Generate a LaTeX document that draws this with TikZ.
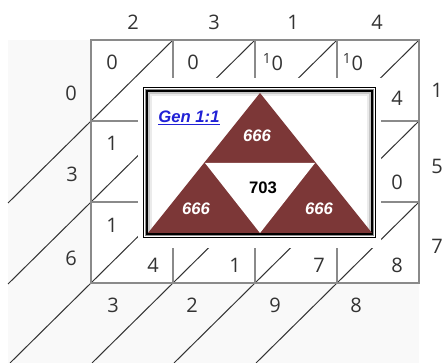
\documentclass[tikz,border=0pt]{standalone}
\usepackage{fontspec}
\setmainfont{Open Sans}
\newfontfamily\boxfont{Liberation Sans}
\definecolor{bggray}{HTML}{F9F9F9}
\definecolor{gridgray}{HTML}{8A8A8A}
\definecolor{numgray}{HTML}{333333}
\definecolor{trired}{HTML}{7C3737}
\definecolor{genblue}{HTML}{2121D6}
\begin{document}
\begin{tikzpicture}[
  x=0.75pt, y=-0.75pt,
  digit/.style={font=\fontsize{15}{18}\selectfont, text=numgray, inner sep=0pt},
  gridline/.style={draw=gridgray, line width=0.9pt},
  diag/.style={draw=black!80, line width=0.75pt},
  trinum/.style={font=\boxfont\bfseries\itshape\fontsize{12.5}{14}\selectfont, text=white, inner sep=0pt},
  midnum/.style={font=\boxfont\bfseries\fontsize{12.5}{14}\selectfont, text=black, inner sep=0pt}
]
\useasboundingbox (0,0) rectangle (443,363);

% Background and white grid area
\fill[bggray] (8,40) rectangle (419,363);
\fill[white] (91,40) rectangle (419,283);

% Diagonals running out to the lower left
\draw[diag] (173,40) -- (8,203);
\draw[diag] (255,40) -- (8,284);
\draw[diag] (337,40) -- (10,363);
\draw[diag] (419,40) -- (92,363);
\draw[diag] (419,121) -- (174,363);
\draw[diag] (419,202) -- (256,363);

% Grid: 4 columns, 3 rows
\draw[gridline] (91,40) rectangle (419,283);
\draw[gridline] (173,40) -- (173,283);
\draw[gridline] (255,40) -- (255,283);
\draw[gridline] (337,40) -- (337,283);
\draw[gridline] (91,121) -- (419,121);
\draw[gridline] (91,202) -- (419,202);

% Top factors
\node[digit] (top1) at (133,22) {2};
\node[digit] (top2) at (214,22) {3};
\node[digit] (top3) at (293,22) {1};
\node[digit] (top4) at (377,22) {4};

% Left and right labels
\node[digit] (left1) at (71,93) {0};
\node[digit] (left2) at (72,174) {3};
\node[digit] (left3) at (71,258) {6};
\node[digit] (right1) at (437,90) {1};
\node[digit] (right2) at (437,166) {5};
\node[digit] (right3) at (437,246) {7};

% Bottom result digits
\node[digit] (bot1) at (113,305) {3};
\node[digit] (bot2) at (192,305) {2};
\node[digit] (bot3) at (275,305) {9};
\node[digit] (bot4) at (356,305) {8};

% Cell entries still visible
\node[digit] (c11) at (112,62) {0};
\node[digit] (c12) at (193,62) {0};
\node[digit] (c13) at (273,62) {\textsuperscript{1}0};
\node[digit] (c14) at (353,62) {\textsuperscript{1}0};
\node[digit] (c14b) at (397,98) {4};
\node[digit] (c21) at (112,143) {1};
\node[digit] (c24b) at (397,182) {0};
\node[digit] (c31) at (112,225) {1};
\node[digit] (c31b) at (153,265) {4};
\node[digit] (c32b) at (235,265) {1};
\node[digit] (c33b) at (319,265) {7};
\node[digit] (c34b) at (397,265) {8};

% Overlay box with framed triangles
\fill[white] (138,78) rectangle (381,248);
\draw[black, line width=1.2pt] (143.5,87.5) rectangle (375.5,237.5);
\draw[black!45, line width=1.2pt] (145.5,89.5) rectangle (373.5,235.5);
\draw[black, line width=0.9pt] (147,91) rectangle (372,234);
\draw[black!22, line width=1.5pt] (149,93) rectangle (370,232);
\draw[black!8, line width=1.5pt] (151,95) rectangle (368,230);

\fill[trired] (148,233) -- (260,93) -- (372,233) -- cycle;
\fill[white] (205,163) -- (315,163) -- (260,233) -- cycle;

\node[font=\boxfont\bfseries\itshape\fontsize{12.5}{14}\selectfont, text=genblue, inner sep=0pt] (gen) at (189,118) {\underline{Gen 1:1}};
\node[trinum] (toptri) at (257,136) {666};
\node[trinum] (lefttri) at (196,209) {666};
\node[trinum] (righttri) at (319,209) {666};
\node[midnum] (midtri) at (263,188) {703};

\end{tikzpicture}
\end{document}
